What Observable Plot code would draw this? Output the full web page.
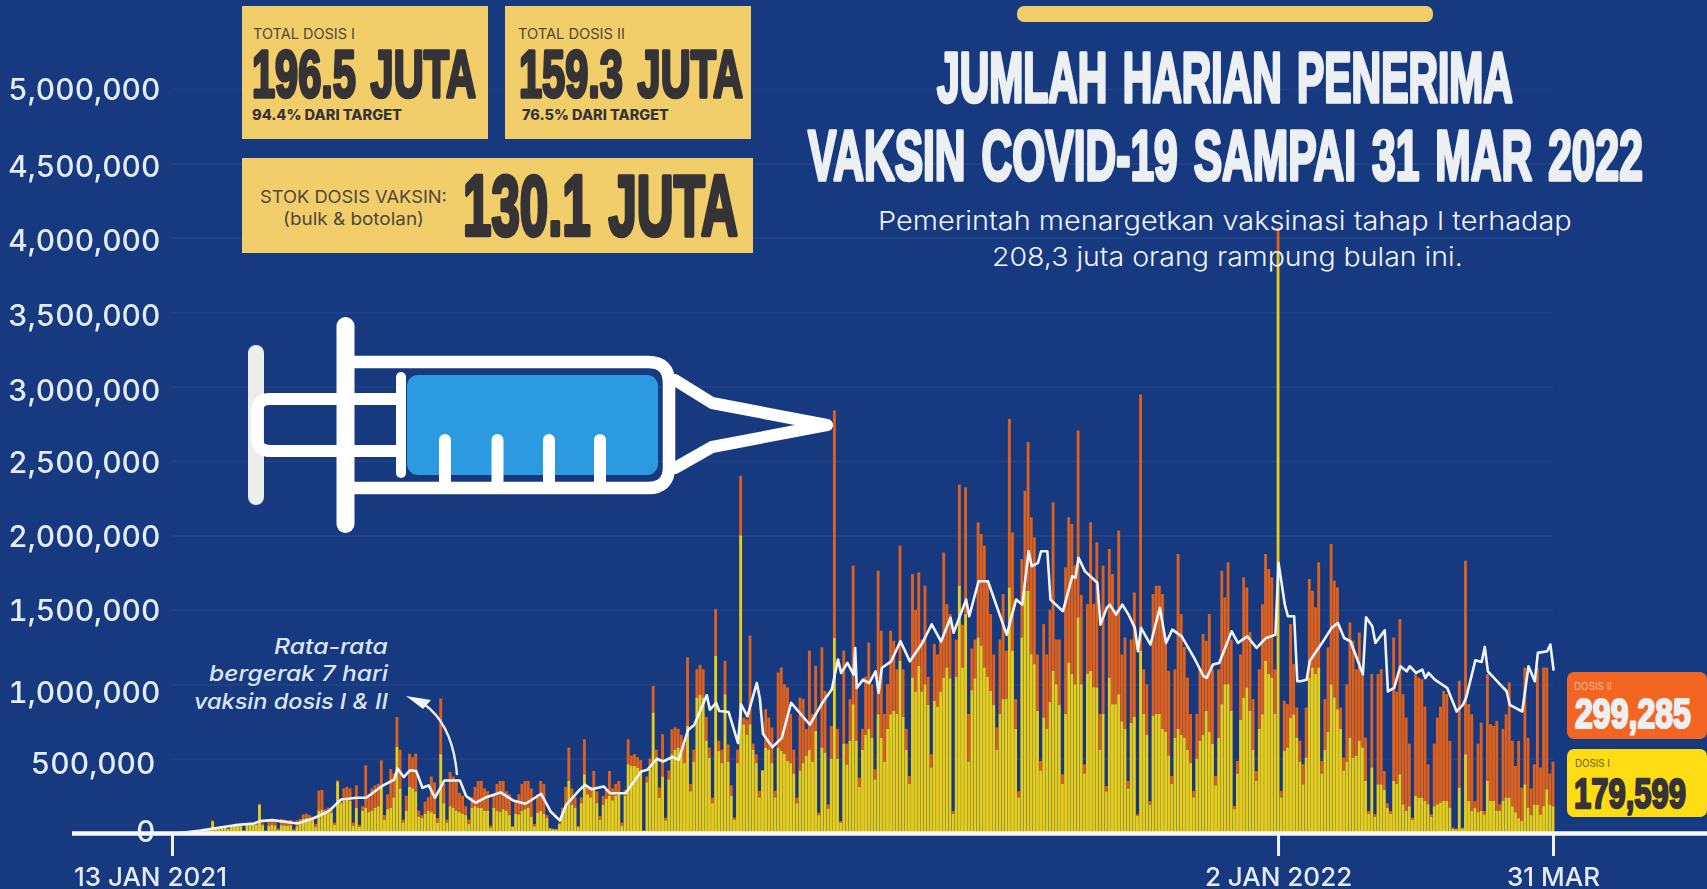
<!DOCTYPE html>
<html lang="id">
<head>
<meta charset="utf-8">
<title>Jumlah harian penerima vaksin COVID-19</title>
<script src="https://cdn.jsdelivr.net/npm/d3@7"></script>
<script src="https://cdn.jsdelivr.net/npm/@observablehq/plot@0.6"></script>
<style>
  html,body{margin:0;padding:0;background:#16397f;overflow:hidden}
  #stage{position:relative;width:1707px;height:889px;background:#16397f}
  #stage svg{position:absolute;left:0;top:0;display:block}
</style>
</head>
<body>
<div id="stage"></div>
<script>
// Daily doses, thousands, one value per day from 13 Jan 2021 to 31 Mar 2022
const total = [
0,1,2,3,5,7,9,11,13,15,
18,22,28,85,40,38,45,42,30,48,
52,55,50,18,58,60,62,60,197,65,
18,85,90,80,30,95,90,85,88,25,
85,95,125,130,120,110,60,285,290,160,
170,165,70,354,210,300,310,300,70,320,
55,180,455,240,300,320,330,489,120,260,
430,400,780,560,90,250,533,510,533,150,
120,210,240,380,340,100,904,330,90,410,
380,360,270,250,180,90,240,310,350,350,
300,280,50,250,330,350,350,280,260,47,
210,260,330,350,350,300,60,260,350,330,
120,36,30,28,70,170,310,574,300,240,
47,240,630,320,310,417,280,114,250,290,
417,300,330,350,70,290,630,520,530,510,
490,18,380,500,989,560,305,664,103,420,
697,710,700,660,600,1180,330,560,1100,1130,
1100,780,574,238,1505,620,560,1157,596,320,
103,560,2400,776,765,1326,600,529,283,417,
832,776,709,283,1079,1112,1000,978,800,560,
238,910,900,700,1225,800,1124,137,1247,955,
193,720,2840,700,80,1225,600,900,1797,1000,
372,700,1050,1280,1000,428,1763,1360,800,1000,
1360,1292,1100,1931,1100,700,383,1740,1500,1752,
1300,1662,1050,529,1270,1200,1300,1886,1538,1471,
148,1300,2342,1400,2324,800,1240,1300,2088,2010,
1931,1700,1471,1200,709,1300,1606,1225,2783,2020,
900,280,1841,2300,2627,2122,1987,1200,484,1404,
1200,1500,2222,1300,1300,395,1785,2122,2077,1800,
2705,1600,462,1538,2088,1540,1954,800,1797,316,
1909,1740,1500,2032,1200,1314,350,1300,1617,126,
2947,1100,1000,215,1606,1662,1662,1606,1300,1090,
383,1100,1875,1471,1250,1045,800,282,800,1100,
1337,1292,1471,1100,383,1100,1763,1583,1819,1300,
182,484,1200,1718,1650,1350,900,417,1100,1538,
1875,1774,1718,1100,4070,283,888,866,1404,1135,
843,620,462,843,1707,1628,1516,1819,484,900,
1247,1942,1696,1651,843,507,1000,1415,1292,1100,
1348,1068,641,148,1068,126,1068,1101,417,200,
148,1314,950,1438,933,776,600,103,1068,1045,
1034,850,462,126,600,776,850,955,933,619,
36,30,1023,36,1830,866,798,215,600,742,
148,1068,731,720,754,193,700,798,1012,620,
450,619,305,1112,640,300,462,1112,440,1112,
1112,400,478.884
];
const dose1 = [
0,1,2,3,5,7,9,10,12,14,
17,20,26,78,36,36,42,40,28,46,
48,52,46,16,54,56,58,55,190,52,
14,50,55,48,20,52,50,48,52,18,
45,60,95,100,90,85,40,150,155,135,
140,135,55,345,200,215,225,215,50,170,
40,150,170,140,150,170,180,320,90,160,
170,240,580,300,70,150,310,300,280,110,
100,130,150,140,130,70,530,200,70,180,
170,150,140,130,120,60,170,180,170,170,
150,150,35,170,150,140,160,150,120,40,
130,125,150,160,170,110,45,135,150,130,
100,30,25,24,60,140,180,350,190,170,
40,200,395,260,240,300,200,90,190,230,
250,220,250,260,50,250,462,450,450,440,
420,15,340,430,810,490,238,380,85,360,
530,560,574,540,470,720,280,480,910,930,
910,620,507,200,1190,550,470,933,480,250,
90,470,2000,730,660,731,560,470,240,420,
574,560,470,240,574,552,530,484,470,400,
200,420,470,520,560,480,686,120,574,540,
165,500,1310,500,70,600,460,620,866,620,
310,560,660,700,640,360,798,640,480,700,
798,821,800,1157,780,560,330,1045,950,1124,
950,1000,860,440,888,850,950,1045,1112,1040,
130,1050,1662,1112,1471,480,960,1040,1314,1260,
1112,1050,955,860,560,800,900,900,1650,1225,
700,240,1314,1628,1628,1202,1135,820,420,776,
700,880,1090,1000,860,330,800,1146,1068,1000,
1449,1000,400,1068,1090,980,978,560,800,280,
1045,866,866,933,750,700,300,740,780,115,
1225,800,660,190,787,800,800,700,680,520,
330,640,700,660,640,560,470,240,500,620,
660,820,680,600,320,640,866,1000,1000,820,
160,400,760,910,978,820,560,350,700,798,
1157,1068,1045,800,3900,240,552,574,776,798,
641,480,327,507,1045,1112,1068,1112,400,560,
680,1000,911,832,700,420,480,641,507,520,
619,574,350,130,440,110,327,327,290,170,
130,350,330,395,193,148,180,90,249,238,
238,215,193,110,180,193,205,215,215,170,
30,25,305,30,529,215,148,170,140,148,
125,350,215,215,148,150,215,238,238,180,
140,100,80,327,170,120,190,190,125,180,
294,190,179.599
];
// 7-day moving average: vertices (day number, thousands)
const maDay = [0,3,9,13,20,26,28,32,40,45,50,54,59,62,67,71,72,74,76,78,80,82,84,87,92,94,97,
100,105,109,113,118,121,124,126,130,132,134,138,140,145,150,152,155,157,160,162,165,167,171,172,174,175,178,
181,182,184,187,188,189,192,195,198,204,208,211,213,214,216,218,218.5,219,221,223,225,226,227,230,233,236,240,243,246,249,250,254,255,258,261,267,
270,272,274,275,277,278,280,281,285,288,289,290,292,296,297,299,300,302,304,306,308,309,310,313,316,318,320,323,327,330,331,333,335,339,341,344,347,350,353,354,356,357,359,360,361,363,364,368,371,373,375,377,381,382,384,385,388,389,391,393,395,396,398,400,401,402,404,408,411,413,414,417,419,420,421,424,427,428,432,434,436,437,440,441,442];
const maVal = [0,5,20,33,56,67,83,90,67,101,150,229,240,240,318,363,437,379,424,420,307,323,240,356,356,251,206,
240,276,222,200,267,148,87,193,287,327,298,316,271,271,417,428,502,484,514,496,695,729,929,832,877,823,816,
608,866,787,1011,906,670,580,642,878,731,878,967,1169,1079,1146,1068,1247,978,1034,1010,1090,945,1112,1157,1292,1157,1280,1406,1290,1450,1349,1572,1460,1695,1695,1335,
1572,1538,1897,1796,1819,1897,1897,1572,1494,1730,1718,1853,1763,1685,1404,1516,1538,1471,1538,1471,1382,1225,1382,1270,1516,1280,1370,1325,1180,1057,1046,1135,1146,1359,1281,1325,1247,1314,1336,1819,1539,1460,1460,1023,1023,1034,1160,1283,1382,1415,1314,1292,1070,1453,1393,1280,1365,955,978,1124,1090,1124,1079,1101,1045,1079,1034,978,820,865,910,1164,1153,1254,1090,1023,956,865,820,1124,1023,1214,1225,1270,1101,1101];
const yTicks = [0,500000,1000000,1500000,2000000,2500000,3000000,3500000,4000000,4500000,5000000];
const yLabelDy = [-1,5,9,1,1,2,4,4,3,3,1];
const yLabelDx = [-5,-5,0,0,0,0,0,0,0,0,0];
const xTickDates = ["2021-01-13","2022-01-02","2022-03-31"];
const xTickLabels = ["13 JAN 2021","2 JAN 2022","31 MAR"];

const DAY = 864e5, start = Date.UTC(2021,0,13);
const rows = dose1.map((d,i)=>({x1:new Date(start+(i-.5)*DAY),x2:new Date(start+(i+.5)*DAY),d1:d*1000,t:total[i]*1000}));
const ma = maDay.map((d,i)=>({date:new Date(start+d*DAY),v:maVal[i]*1000}));
const xt = xTickDates.map((d,i)=>({date:new Date(d),label:xTickLabels[i]}));
const SANS = "Inter, 'Open Sans', sans-serif";
const SOFT = "blur(0.55px)";

const chart = Plot.plot({
  width:1707,height:889,
  marginLeft:172,marginRight:154,marginTop:89,marginBottom:56,
  style:{background:"transparent",fontFamily:SANS},
  x:{type:"utc",domain:[new Date(xTickDates[0]),new Date(xTickDates[2])]},
  y:{domain:[0,5000000]},
  marks:[
    Plot.gridY(yTicks,{stroke:"#ffffff",strokeOpacity:.045,strokeWidth:2,imageFilter:SOFT}),
    ...yTicks.map((t,i)=>Plot.axisY({ticks:[t],dy:yLabelDy[i],dx:yLabelDx[i],tickSize:0,tickPadding:12,fontSize:30,fontWeight:500,label:null,fill:"#e4ecf7",tickFormat:d3.format(","),imageFilter:"blur(0.4px)"})),
    Plot.rectY(rows,{x1:"x1",x2:"x2",y1:"d1",y2:"t",fill:"#dc611f",insetLeft:.12,insetRight:.12,imageFilter:SOFT}),
    Plot.rectY(rows,{x1:"x1",x2:"x2",y1:0,y2:"d1",fill:"#e6cd1c",insetLeft:.12,insetRight:.12,imageFilter:SOFT}),
    Plot.ruleY([0],{stroke:"#f7f9fc",strokeWidth:4.5,insetLeft:-100,insetRight:-154,imageFilter:"blur(0.3px)"}),
    Plot.line(ma,{x:"date",y:"v",stroke:"#eef4fc",strokeWidth:2.6,strokeLinejoin:"round",imageFilter:"blur(0.3px)"}),
    Plot.axisX({ticks:xt.map(d=>d.date),tickSize:23,tickFormat:()=>"",stroke:"#eef2f9",strokeWidth:3,label:null}),
    Plot.text(xt.slice(0,1),{x:"date",y:()=>0,text:"label",dy:44,dx:-22,fontSize:26,fontWeight:500,fill:"#e4ecf7",imageFilter:"blur(0.4px)"}),
    Plot.text(xt.slice(1),{x:"date",y:()=>0,text:"label",dy:44,fontSize:26,fontWeight:500,fill:"#e4ecf7",imageFilter:"blur(0.4px)"})
  ]
});
document.getElementById("stage").appendChild(chart);

// Overlay: info panels, title, syringe and annotation
const ov = d3.select("#stage").append("svg").attr("width",1707).attr("height",889).attr("viewBox","0 0 1707 889");
const NARROW = "'Liberation Sans Narrow','Liberation Sans',sans-serif";
function fit(t,x0,x1,y,size,o={}){
  const e = ov.append("text").text(t).attr("font-size",size)
    .attr("font-family",o.font||SANS).attr("font-weight",o.weight||400).attr("font-style",o.style||"normal")
    .attr("fill",o.fill||"#333");
  if(o.words) e.attr("word-spacing",o.words);
  if(o.stroke) e.attr("stroke",o.fill||"#333").attr("stroke-width",o.stroke).attr("stroke-linejoin","round").style("vector-effect","non-scaling-stroke");
  const k=(x1-x0)/e.node().getComputedTextLength();
  e.attr("transform",`translate(${x0},${y}) scale(${k},1)`);
}
const big=(t,x0,x1,y,size,fill,stroke,words)=>fit(t,x0,x1,y,size,{font:NARROW,weight:700,fill,stroke,words});
const box=(x0,y0,x1,y1,fill,r=0)=>ov.append("rect").attr("x",x0).attr("y",y0).attr("width",x1-x0).attr("height",y1-y0).attr("rx",r).attr("fill",fill);

const GOLD="#f2ce6a", INK="#353336", INK2="#4e473c";
box(242,6,488,139,GOLD); box(505,6,751,139,GOLD); box(242,158,753,253,GOLD);
fit("TOTAL DOSIS I",253,355,38.5,14.5,{fill:INK2});
fit("TOTAL DOSIS II",518,625,38.5,14.5,{fill:INK2});
big("196.5 JUTA",252,476,97,66,INK,3,5);
big("159.3 JUTA",519,743,97,66,INK,3,5);
fit("94.4% DARI TARGET",252,402,120,14,{weight:800,fill:INK});
fit("76.5% DARI TARGET",522,669,120,14,{weight:800,fill:INK});
fit("STOK DOSIS VAKSIN:",260,447,203,17.5,{fill:INK2});
fit("(bulk & botolan)",283,424,225,17.5,{fill:INK2});
big("130.1 JUTA",463,738,235,85,INK,3.6,6);

box(1017,6,1433,22,GOLD,7);
big("JUMLAH HARIAN PENERIMA",937,1513,102,71,"#edf0f2",3,7);
big("VAKSIN COVID-19 SAMPAI 31 MAR 2022",808,1643,180,71,"#edf0f2",3,7);
fit("Pemerintah menargetkan vaksinasi tahap I terhadap",878,1572,230,26,{weight:300,fill:"#f0f4fa"});
fit("208,3 juta orang rampung bulan ini.",992,1463,266,26,{weight:300,fill:"#f0f4fa"});

box(1567,672,1707,739,"#f26522",7);
box(1567,749,1707,817,"#ffdd15",7);
fit("DOSIS II",1574,1612,690,10.5,{fill:"#f8b78f"});
fit("DOSIS I",1575,1610,767,10.5,{fill:"#6d5c1e"});
big("299,285",1575,1691,728,42,"#edf0f2",2);
big("179,599",1574,1686,808,42,INK,2);

// Syringe
const sg=ov.append("g").attr("fill","none").attr("stroke","#fff").attr("stroke-linecap","round").attr("stroke-linejoin","round");
ov.insert("rect","g").attr("x",407).attr("y",375).attr("width",251).attr("height",100).attr("rx",11).attr("fill","#2b9ae0");
sg.append("path").attr("d","M256,353V497").attr("stroke","#eceeec").attr("stroke-width",16);
sg.append("path").attr("d","M345.5,326V524").attr("stroke-width",18);
sg.append("path").attr("d","M345,362H648Q669,362 669,383V467Q669,488 648,488H345").attr("stroke-width",12.5);
sg.append("path").attr("d","M675,380L712,403L827,425L712,447L675,468").attr("stroke-width",12);
sg.append("path").attr("d","M396,399H270Q257,399 257,412V438Q257,451 270,451H396").attr("stroke-width",12);
sg.append("path").attr("d","M401,377V473").attr("stroke-width",10);
[445,497.5,549,600].forEach(x=>sg.append("path").attr("d",`M${x},440V488`).attr("stroke-width",12));

// Annotation
const noteOpts={style:"italic",fill:"#dbe6f5",weight:500};
fit("Rata-rata",274,388,654,21,noteOpts);
fit("bergerak 7 hari",209,388,681,21,noteOpts);
fit("vaksin dosis I & II",194,388,709,21,noteOpts);
ov.append("path").attr("d","M457,775Q453,725 424,704").attr("fill","none").attr("stroke","#e8eff9").attr("stroke-width",2.4);
ov.append("path").attr("d","M406,696L431,700L423,709Z").attr("fill","#f2f6fc");
</script>
</body>
</html>
